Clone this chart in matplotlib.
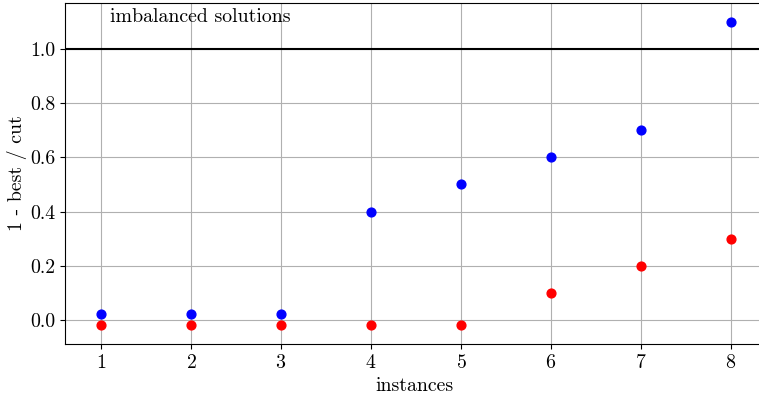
import numpy as np
import matplotlib
matplotlib.use("Agg")
import matplotlib.pyplot as plt

plt.rcParams["font.family"] = "serif"
plt.rcParams["font.serif"] = ["cmr10"]
plt.rcParams["mathtext.fontset"] = "cm"
plt.rcParams["axes.formatter.use_mathtext"] = True
plt.rcParams["font.size"] = 14.3

# ── data ──────────────────────────────────────────────
instances = [1, 2, 3, 4, 5, 6, 7, 8]
blue_vals = [0.02, 0.02, 0.02, 0.40, 0.50, 0.60, 0.70, 1.10]
red_vals = [-0.02, -0.02, -0.02, -0.02, -0.02, 0.10, 0.20, 0.30]

fig = plt.figure(figsize=(7.59, 3.95), dpi=100)
ax = fig.add_axes([65 / 759, 51 / 395, (763 - 65) / 759, 341 / 395])

ax.scatter(instances, blue_vals, color="blue", s=40, zorder=3)
ax.scatter(instances, red_vals, color="red", s=40, zorder=3)
ax.axhline(1.0, color="black", lw=1.5, zorder=2)
ax.text(1.1, 1.1, "imbalanced solutions")

ax.set_xlim(0.6, 8.355)
ax.set_ylim(-0.089, 1.17)
ax.set_xticks(instances)
ax.set_yticks([0.0, 0.2, 0.4, 0.6, 0.8, 1.0])
ax.set_yticklabels(["0.0", "0.2", "0.4", "0.6", "0.8", "1.0"])
ax.grid(True, color="#b0b0b0", lw=0.8)
ax.set_axisbelow(True)
ax.set_xlabel("instances")
ax.set_ylabel("1 - best / cut", labelpad=2)

fig.savefig("out.png", dpi=100)
